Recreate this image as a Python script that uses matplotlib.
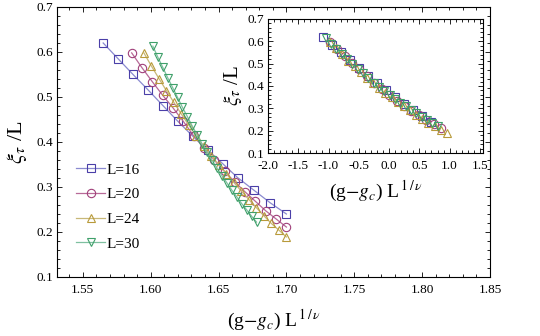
import numpy as np
import matplotlib
matplotlib.use('Agg')
import matplotlib.pyplot as plt
from matplotlib.ticker import MultipleLocator, FormatStrFormatter

plt.rcParams['font.family'] = ['Liberation Serif', 'DejaVu Serif']
plt.rcParams['mathtext.fontset'] = 'stix'

# data
labels = ['L=16', 'L=20', 'L=24', 'L=30']

g16 = [1.565, 1.576, 1.587, 1.598, 1.609, 1.620, 1.631, 1.642, 1.653, 1.664, 1.676, 1.688, 1.700]
y16 = [0.620, 0.585, 0.550, 0.516, 0.481, 0.446, 0.413, 0.382, 0.352, 0.321, 0.293, 0.265, 0.240]
s16 = [-1.09, -0.94, -0.79, -0.64, -0.49, -0.345, -0.20, -0.05, 0.10, 0.25, 0.40, 0.55, 0.70]

g20 = [1.586, 1.5936, 1.6012, 1.6088, 1.6164, 1.624, 1.6316, 1.6392, 1.6468, 1.6544,
       1.662, 1.6696, 1.6772, 1.6848, 1.6924, 1.700]
y20 = [0.598, 0.565, 0.534, 0.504, 0.476, 0.446, 0.414, 0.387, 0.360, 0.335,
       0.311, 0.289, 0.268, 0.247, 0.229, 0.211]
s20 = [-0.98, -0.86, -0.735, -0.61, -0.49, -0.37, -0.245, -0.12, 0.0, 0.125,
       0.25, 0.37, 0.495, 0.615, 0.74, 0.86]

g24 = [1.595, 1.6005, 1.6061, 1.6116, 1.6171, 1.6226, 1.6282, 1.6337, 1.6392, 1.6447,
       1.6503, 1.6558, 1.6613, 1.6668, 1.6724, 1.6779, 1.6834, 1.6889, 1.6945, 1.700]
y24 = [0.598, 0.569, 0.541, 0.514, 0.488, 0.462, 0.437, 0.413, 0.390, 0.369,
       0.349, 0.329, 0.310, 0.291, 0.272, 0.254, 0.236, 0.219, 0.204, 0.189]
s24 = [-0.98, -0.88, -0.775, -0.675, -0.57, -0.47, -0.37, -0.265, -0.165, -0.06,
       0.04, 0.14, 0.245, 0.345, 0.45, 0.55, 0.65, 0.755, 0.855, 0.96]

g30 = [1.6016, 1.6052, 1.6089, 1.6125, 1.6162, 1.6198, 1.6234, 1.6271, 1.6307, 1.6344, 1.638,
       1.6416, 1.6453, 1.6489, 1.6526, 1.6562, 1.6598, 1.6635, 1.6671, 1.6708, 1.6744, 1.678]
y30 = [0.613, 0.589, 0.566, 0.543, 0.521, 0.499, 0.477, 0.456, 0.435, 0.415, 0.395,
       0.377, 0.359, 0.342, 0.325, 0.309, 0.293, 0.278, 0.263, 0.249, 0.235, 0.222]
s30 = [-1.045, -0.955, -0.87, -0.78, -0.695, -0.605, -0.52, -0.43, -0.34, -0.255, -0.165,
       -0.08, 0.01, 0.10, 0.185, 0.275, 0.36, 0.45, 0.54, 0.625, 0.715, 0.80]

gs = [g16, g20, g24, g30]
ys = [y16, y20, y24, y30]
ss = [s16, s20, s24, s30]
markers = ['s', 'o', '^', 'v']
mcolors = ['#4a3fa8', '#a0407a', '#b89a3a', '#3fa06a']
lcolors = ['#8a8ad0', '#b86a98', '#c8b878', '#7fc0a0']

xlab = r'(g$-g_c$) L$^{\,1\,/\,\nu}$'
ylab = r'$\xi_\tau$ /L'


def style(ax, xmaj, xmin, ymaj, ymin, xfmt):
    ax.xaxis.set_major_locator(MultipleLocator(xmaj))
    ax.xaxis.set_minor_locator(MultipleLocator(xmin))
    ax.yaxis.set_major_locator(MultipleLocator(ymaj))
    ax.yaxis.set_minor_locator(MultipleLocator(ymin))
    ax.xaxis.set_major_formatter(FormatStrFormatter(xfmt))
    ax.yaxis.set_major_formatter(FormatStrFormatter('%.1f'))
    ax.tick_params(which='both', direction='in', top=True, right=True, width=0.6, labelsize=9.5, pad=3)
    ax.tick_params(which='major', length=3.5)
    ax.tick_params(which='minor', length=2)
    for sp in ax.spines.values():
        sp.set_linewidth(0.8)


fig = plt.figure(figsize=(5.4, 3.36), dpi=100)
ax = fig.add_axes([0.1056, 0.1756, 0.8018, 0.8036])

for g, y, m, mc, lc, lab in zip(gs, ys, markers, mcolors, lcolors, labels):
    ax.plot(g, y, color=lc, lw=0.9, marker=m, ms=6, mfc='none', mec=mc, mew=0.8, label=lab)

ax.set_xlim(1.531, 1.85)
ax.set_ylim(0.1, 0.7)
style(ax, 0.05, 0.01, 0.1, 0.02, '%.2f')
ax.tick_params(axis='x', pad=5)
ax.set_xlabel(xlab, fontsize=14, labelpad=9)
ax.set_ylabel(ylab, fontsize=16, labelpad=5)

ax.legend(loc='upper left', bbox_to_anchor=(0.03, 0.445), frameon=False, fontsize=11,
          handlelength=1.9, handletextpad=0.1, labelspacing=0.72, borderaxespad=0)

# inset with the collapsed data
axi = fig.add_axes([0.4963, 0.5446, 0.398, 0.399])
for s, y, m, mc in zip(ss, ys, markers, mcolors):
    axi.plot(s, y, ls='none', marker=m, ms=6, mfc='none', mec=mc, mew=0.8)
axi.set_xlim(-2.0, 1.55)
axi.set_ylim(0.1, 0.7)
style(axi, 0.5, 0.1, 0.1, 0.02, '%.1f')
axi.tick_params(axis='x', pad=5)
axi.set_xlabel(xlab, fontsize=14, labelpad=5)
axi.set_ylabel(ylab, fontsize=15, labelpad=2)

fig.savefig('out.png', dpi=100)
